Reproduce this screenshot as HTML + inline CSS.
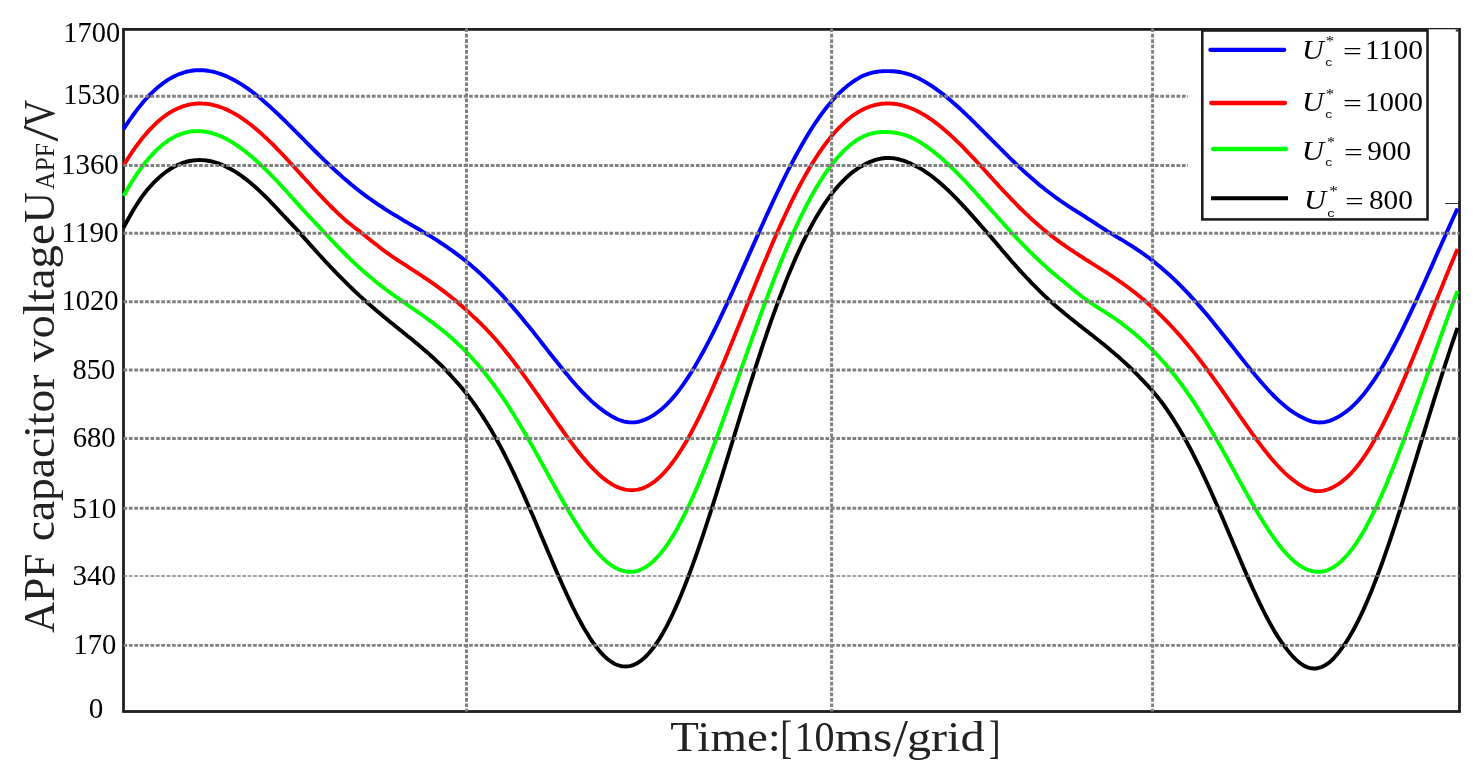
<!DOCTYPE html>
<html lang="en"><head><meta charset="utf-8"><title>APF capacitor voltage</title>
<style>html,body{margin:0;padding:0;background:#fff;}svg{display:block;}text{font-family:"Liberation Serif","DejaVu Serif",serif;}</style></head><body>
<svg width="1484" height="775" viewBox="0 0 1484 775">
<rect width="1484" height="775" fill="#fff"/>
<rect x="123.5" y="29.4" width="1336.0" height="682.1" fill="none" stroke="#1e1e1e" stroke-width="2.8"/>
<g fill="none" stroke-width="3.9" stroke-linejoin="round">
<path d="M123.5,227.7 L125.5,224.0 L127.5,220.3 L129.5,216.7 L131.5,213.2 L133.5,209.8 L135.5,206.5 L137.5,203.4 L139.5,200.4 L141.5,197.4 L143.5,194.7 L145.5,192.0 L147.5,189.6 L149.5,187.3 L151.5,185.1 L153.5,182.9 L155.5,180.9 L157.5,179.0 L159.5,177.2 L161.5,175.4 L163.5,173.8 L165.5,172.3 L167.5,170.8 L169.5,169.5 L171.5,168.2 L173.5,167.1 L175.5,166.0 L177.5,165.0 L179.5,164.2 L181.5,163.4 L183.5,162.7 L185.5,162.0 L187.5,161.5 L189.5,161.0 L191.5,160.7 L193.5,160.4 L195.5,160.2 L197.5,160.1 L199.5,160.0 L201.5,160.1 L203.5,160.2 L205.5,160.4 L207.5,160.7 L209.5,161.0 L211.5,161.4 L213.5,161.9 L215.5,162.5 L217.5,163.1 L219.5,163.9 L221.5,164.6 L223.5,165.5 L225.5,166.4 L227.5,167.4 L229.5,168.4 L231.5,169.5 L233.5,170.7 L235.5,171.9 L237.5,173.2 L239.5,174.5 L241.5,175.9 L243.5,177.4 L245.5,178.9 L247.5,180.4 L249.5,182.0 L251.5,183.7 L253.5,185.4 L255.5,187.2 L257.5,189.0 L259.5,190.9 L261.5,192.8 L263.5,194.7 L265.5,196.7 L267.5,198.7 L269.5,200.7 L271.5,202.8 L273.5,204.9 L275.5,207.0 L277.5,209.1 L279.5,211.3 L281.5,213.4 L283.5,215.5 L285.5,217.6 L287.5,219.7 L289.5,221.8 L291.5,223.9 L293.5,226.1 L295.5,228.2 L297.5,230.4 L299.5,232.6 L301.5,234.9 L303.5,237.1 L305.5,239.4 L307.5,241.6 L309.5,243.9 L311.5,246.1 L313.5,248.3 L315.5,250.6 L317.5,252.8 L319.5,255.0 L321.5,257.1 L323.5,259.3 L325.5,261.5 L327.5,263.6 L329.5,265.7 L331.5,267.9 L333.5,270.0 L335.5,272.0 L337.5,274.1 L339.5,276.2 L341.5,278.2 L343.5,280.2 L345.5,282.2 L347.5,284.2 L349.5,286.1 L351.5,288.0 L353.5,290.0 L355.5,291.9 L357.5,293.7 L359.5,295.6 L361.5,297.4 L363.5,299.2 L365.5,301.0 L367.5,302.8 L369.5,304.6 L371.5,306.3 L373.5,308.0 L375.5,309.7 L377.5,311.4 L379.5,313.1 L381.5,314.8 L383.5,316.5 L385.5,318.1 L387.5,319.7 L389.5,321.4 L391.5,323.0 L393.5,324.6 L395.5,326.2 L397.5,327.8 L399.5,329.5 L401.5,331.1 L403.5,332.7 L405.5,334.3 L407.5,335.9 L409.5,337.5 L411.5,339.1 L413.5,340.8 L415.5,342.4 L417.5,344.1 L419.5,345.8 L421.5,347.4 L423.5,349.2 L425.5,350.9 L427.5,352.6 L429.5,354.4 L431.5,356.2 L433.5,358.0 L435.5,359.9 L437.5,361.8 L439.5,363.7 L441.5,365.7 L443.5,367.7 L445.5,369.8 L447.5,371.9 L449.5,374.1 L451.5,376.3 L453.5,378.5 L455.5,380.7 L457.5,382.9 L459.5,385.2 L461.5,387.6 L463.5,390.0 L465.5,392.4 L467.5,395.0 L469.5,397.5 L471.5,400.2 L473.5,402.9 L475.5,405.7 L477.5,408.6 L479.5,411.5 L481.5,414.5 L483.5,417.6 L485.5,420.7 L487.5,423.9 L489.5,427.2 L491.5,430.6 L493.5,434.1 L495.5,437.6 L497.5,441.2 L499.5,444.9 L501.5,448.6 L503.5,452.5 L505.5,456.4 L507.5,460.3 L509.5,464.4 L511.5,468.5 L513.5,472.7 L515.5,476.9 L517.5,481.2 L519.5,485.5 L521.5,490.0 L523.5,494.4 L525.5,498.9 L527.5,503.5 L529.5,508.1 L531.5,512.7 L533.5,517.3 L535.5,522.0 L537.5,526.7 L539.5,531.4 L541.5,536.2 L543.5,540.9 L545.5,545.6 L547.5,550.4 L549.5,555.1 L551.5,559.8 L553.5,564.5 L555.5,569.1 L557.5,573.7 L559.5,578.3 L561.5,582.8 L563.5,587.2 L565.5,591.6 L567.5,596.0 L569.5,600.2 L571.5,604.4 L573.5,608.5 L575.5,612.5 L577.5,616.3 L579.5,620.1 L581.5,623.8 L583.5,627.4 L585.5,630.8 L587.5,634.1 L589.5,637.3 L591.5,640.3 L593.5,643.2 L595.5,645.9 L597.5,648.5 L599.5,650.9 L601.5,653.2 L603.5,655.3 L605.5,657.2 L607.5,659.0 L609.5,660.5 L611.5,661.9 L613.5,663.2 L615.5,664.2 L617.5,665.0 L619.5,665.7 L621.5,666.2 L623.5,666.4 L625.5,666.5 L627.5,666.4 L629.5,666.1 L631.5,665.6 L633.5,664.9 L635.5,664.1 L637.5,663.0 L639.5,661.7 L641.5,660.3 L643.5,658.6 L645.5,656.8 L647.5,654.7 L649.5,652.5 L651.5,650.1 L653.5,647.5 L655.5,644.8 L657.5,641.8 L659.5,638.7 L661.5,635.4 L663.5,632.0 L665.5,628.4 L667.5,624.6 L669.5,620.7 L671.5,616.6 L673.5,612.3 L675.5,607.9 L677.5,603.4 L679.5,598.7 L681.5,593.9 L683.5,589.0 L685.5,584.0 L687.5,578.8 L689.5,573.5 L691.5,568.1 L693.5,562.6 L695.5,557.0 L697.5,551.3 L699.5,545.5 L701.5,539.6 L703.5,533.6 L705.5,527.6 L707.5,521.5 L709.5,515.3 L711.5,509.1 L713.5,502.8 L715.5,496.5 L717.5,490.1 L719.5,483.7 L721.5,477.2 L723.5,470.8 L725.5,464.3 L727.5,457.8 L729.5,451.2 L731.5,444.7 L733.5,438.2 L735.5,431.6 L737.5,425.1 L739.5,418.6 L741.5,412.1 L743.5,405.6 L745.5,399.2 L747.5,392.8 L749.5,386.4 L751.5,380.1 L753.5,373.8 L755.5,367.6 L757.5,361.4 L759.5,355.3 L761.5,349.2 L763.5,343.2 L765.5,337.3 L767.5,331.4 L769.5,325.6 L771.5,319.9 L773.5,314.3 L775.5,308.8 L777.5,303.3 L779.5,297.9 L781.5,292.7 L783.5,287.5 L785.5,282.4 L787.5,277.4 L789.5,272.5 L791.5,267.7 L793.5,263.0 L795.5,258.4 L797.5,254.0 L799.5,249.6 L801.5,245.3 L803.5,241.1 L805.5,237.1 L807.5,233.1 L809.5,229.3 L811.5,225.6 L813.5,221.9 L815.5,218.4 L817.5,215.0 L819.5,211.7 L821.5,208.5 L823.5,205.4 L825.5,202.4 L827.5,199.6 L829.5,196.8 L831.5,194.1 L833.5,191.6 L835.5,189.1 L837.5,186.8 L839.5,184.5 L841.5,182.4 L843.5,180.3 L845.5,178.4 L847.5,176.5 L849.5,174.8 L851.5,173.1 L853.5,171.5 L855.5,170.1 L857.5,168.7 L859.5,167.4 L861.5,166.2 L863.5,165.1 L865.5,164.0 L867.5,163.0 L869.5,162.1 L871.5,161.3 L873.5,160.6 L875.5,159.9 L877.5,159.4 L879.5,158.9 L881.5,158.5 L883.5,158.2 L885.5,158.0 L887.5,157.9 L889.5,158.0 L891.5,158.1 L893.5,158.3 L895.5,158.6 L897.5,159.0 L899.5,159.5 L901.5,160.1 L903.5,160.7 L905.5,161.4 L907.5,162.2 L909.5,163.0 L911.5,163.9 L913.5,164.9 L915.5,165.9 L917.5,166.9 L919.5,168.0 L921.5,169.2 L923.5,170.4 L925.5,171.8 L927.5,173.1 L929.5,174.5 L931.5,176.0 L933.5,177.6 L935.5,179.2 L937.5,180.8 L939.5,182.5 L941.5,184.2 L943.5,186.0 L945.5,187.9 L947.5,189.7 L949.5,191.7 L951.5,193.6 L953.5,195.6 L955.5,197.6 L957.5,199.7 L959.5,201.8 L961.5,203.9 L963.5,206.1 L965.5,208.2 L967.5,210.4 L969.5,212.6 L971.5,214.9 L973.5,217.1 L975.5,219.4 L977.5,221.6 L979.5,223.9 L981.5,226.2 L983.5,228.5 L985.5,230.8 L987.5,233.0 L989.5,235.3 L991.5,237.6 L993.5,240.0 L995.5,242.3 L997.5,244.6 L999.5,247.0 L1001.5,249.4 L1003.5,251.7 L1005.5,254.1 L1007.5,256.4 L1009.5,258.7 L1011.5,261.1 L1013.5,263.3 L1015.5,265.6 L1017.5,267.8 L1019.5,270.1 L1021.5,272.2 L1023.5,274.4 L1025.5,276.5 L1027.5,278.6 L1029.5,280.7 L1031.5,282.8 L1033.5,284.9 L1035.5,286.9 L1037.5,288.9 L1039.5,290.9 L1041.5,292.8 L1043.5,294.8 L1045.5,296.7 L1047.5,298.5 L1049.5,300.4 L1051.5,302.2 L1053.5,303.9 L1055.5,305.7 L1057.5,307.4 L1059.5,309.2 L1061.5,310.8 L1063.5,312.5 L1065.5,314.2 L1067.5,315.8 L1069.5,317.4 L1071.5,319.0 L1073.5,320.6 L1075.5,322.2 L1077.5,323.8 L1079.5,325.4 L1081.5,326.9 L1083.5,328.5 L1085.5,330.1 L1087.5,331.6 L1089.5,333.2 L1091.5,334.8 L1093.5,336.3 L1095.5,337.9 L1097.5,339.5 L1099.5,341.1 L1101.5,342.7 L1103.5,344.3 L1105.5,346.0 L1107.5,347.6 L1109.5,349.3 L1111.5,351.0 L1113.5,352.6 L1115.5,354.4 L1117.5,356.1 L1119.5,357.8 L1121.5,359.6 L1123.5,361.4 L1125.5,363.2 L1127.5,365.1 L1129.5,367.0 L1131.5,368.9 L1133.5,370.9 L1135.5,372.9 L1137.5,374.9 L1139.5,377.0 L1141.5,379.1 L1143.5,381.2 L1145.5,383.3 L1147.5,385.4 L1149.5,387.6 L1151.5,389.8 L1153.5,392.1 L1155.5,394.5 L1157.5,396.9 L1159.5,399.4 L1161.5,402.0 L1163.5,404.7 L1165.5,407.5 L1167.5,410.4 L1169.5,413.4 L1171.5,416.4 L1173.5,419.5 L1175.5,422.7 L1177.5,426.0 L1179.5,429.3 L1181.5,432.8 L1183.5,436.3 L1185.5,439.8 L1187.5,443.5 L1189.5,447.2 L1191.5,451.0 L1193.5,454.9 L1195.5,458.8 L1197.5,462.9 L1199.5,466.9 L1201.5,471.1 L1203.5,475.3 L1205.5,479.6 L1207.5,483.9 L1209.5,488.3 L1211.5,492.7 L1213.5,497.2 L1215.5,501.8 L1217.5,506.3 L1219.5,511.0 L1221.5,515.6 L1223.5,520.3 L1225.5,525.0 L1227.5,529.7 L1229.5,534.4 L1231.5,539.1 L1233.5,543.9 L1235.5,548.6 L1237.5,553.3 L1239.5,558.0 L1241.5,562.7 L1243.5,567.4 L1245.5,572.0 L1247.5,576.6 L1249.5,581.1 L1251.5,585.6 L1253.5,590.0 L1255.5,594.3 L1257.5,598.6 L1259.5,602.8 L1261.5,606.9 L1263.5,611.0 L1265.5,614.9 L1267.5,618.7 L1269.5,622.4 L1271.5,626.0 L1273.5,629.5 L1275.5,632.9 L1277.5,636.1 L1279.5,639.2 L1281.5,642.1 L1283.5,644.9 L1285.5,647.6 L1287.5,650.1 L1289.5,652.6 L1291.5,655.0 L1293.5,657.2 L1295.5,659.2 L1297.5,661.1 L1299.5,662.7 L1301.5,664.1 L1303.5,665.4 L1305.5,666.4 L1307.5,667.3 L1309.5,667.9 L1311.5,668.3 L1313.5,668.5 L1315.5,668.5 L1317.5,668.2 L1319.5,667.7 L1321.5,667.0 L1323.5,666.1 L1325.5,665.0 L1327.5,663.7 L1329.5,662.2 L1331.5,660.4 L1333.5,658.5 L1335.5,656.3 L1337.5,653.9 L1339.5,651.4 L1341.5,648.7 L1343.5,645.9 L1345.5,643.0 L1347.5,639.9 L1349.5,636.7 L1351.5,633.3 L1353.5,629.8 L1355.5,626.0 L1357.5,622.2 L1359.5,618.1 L1361.5,613.9 L1363.5,609.6 L1365.5,605.1 L1367.5,600.5 L1369.5,595.8 L1371.5,590.9 L1373.5,585.9 L1375.5,580.7 L1377.5,575.5 L1379.5,570.1 L1381.5,564.7 L1383.5,559.1 L1385.5,553.4 L1387.5,547.6 L1389.5,541.8 L1391.5,535.9 L1393.5,529.9 L1395.5,523.8 L1397.5,517.6 L1399.5,511.4 L1401.5,505.2 L1403.5,498.9 L1405.5,492.5 L1407.5,486.1 L1409.5,479.7 L1411.5,473.2 L1413.5,466.7 L1415.5,460.2 L1417.5,453.7 L1419.5,447.1 L1421.5,440.6 L1423.5,434.1 L1425.5,427.6 L1427.5,421.0 L1429.5,414.5 L1431.5,408.1 L1433.5,401.6 L1435.5,395.2 L1437.5,388.8 L1439.5,382.5 L1441.5,376.2 L1443.5,369.9 L1445.5,363.7 L1447.5,357.6 L1449.5,351.5 L1451.5,345.4 L1453.5,339.5 L1455.5,333.6 L1457.5,327.8" stroke="#000"/>
<path d="M123.5,196.0 L125.5,192.5 L127.5,189.0 L129.5,185.6 L131.5,182.4 L133.5,179.2 L135.5,176.1 L137.5,173.2 L139.5,170.3 L141.5,167.5 L143.5,164.9 L145.5,162.3 L147.5,159.9 L149.5,157.5 L151.5,155.3 L153.5,153.1 L155.5,151.1 L157.5,149.2 L159.5,147.4 L161.5,145.6 L163.5,144.0 L165.5,142.5 L167.5,141.0 L169.5,139.7 L171.5,138.5 L173.5,137.4 L175.5,136.3 L177.5,135.4 L179.5,134.6 L181.5,133.8 L183.5,133.2 L185.5,132.6 L187.5,132.1 L189.5,131.7 L191.5,131.4 L193.5,131.2 L195.5,131.1 L197.5,131.1 L199.5,131.1 L201.5,131.2 L203.5,131.4 L205.5,131.7 L207.5,132.1 L209.5,132.5 L211.5,133.0 L213.5,133.6 L215.5,134.3 L217.5,135.0 L219.5,135.8 L221.5,136.6 L223.5,137.6 L225.5,138.6 L227.5,139.6 L229.5,140.7 L231.5,141.9 L233.5,143.1 L235.5,144.4 L237.5,145.8 L239.5,147.2 L241.5,148.6 L243.5,150.1 L245.5,151.6 L247.5,153.2 L249.5,154.9 L251.5,156.6 L253.5,158.3 L255.5,160.0 L257.5,161.9 L259.5,163.7 L261.5,165.6 L263.5,167.5 L265.5,169.4 L267.5,171.4 L269.5,173.4 L271.5,175.4 L273.5,177.5 L275.5,179.6 L277.5,181.7 L279.5,183.8 L281.5,186.0 L283.5,188.1 L285.5,190.3 L287.5,192.5 L289.5,194.7 L291.5,196.9 L293.5,199.2 L295.5,201.4 L297.5,203.6 L299.5,205.9 L301.5,208.1 L303.5,210.3 L305.5,212.5 L307.5,214.6 L309.5,216.8 L311.5,218.9 L313.5,221.0 L315.5,223.1 L317.5,225.2 L319.5,227.3 L321.5,229.4 L323.5,231.5 L325.5,233.7 L327.5,235.8 L329.5,238.0 L331.5,240.1 L333.5,242.2 L335.5,244.3 L337.5,246.4 L339.5,248.4 L341.5,250.5 L343.5,252.5 L345.5,254.5 L347.5,256.5 L349.5,258.4 L351.5,260.3 L353.5,262.2 L355.5,264.1 L357.5,265.9 L359.5,267.7 L361.5,269.5 L363.5,271.3 L365.5,273.0 L367.5,274.7 L369.5,276.4 L371.5,278.1 L373.5,279.7 L375.5,281.4 L377.5,283.0 L379.5,284.5 L381.5,286.1 L383.5,287.6 L385.5,289.2 L387.5,290.7 L389.5,292.1 L391.5,293.6 L393.5,295.0 L395.5,296.5 L397.5,297.9 L399.5,299.3 L401.5,300.7 L403.5,302.1 L405.5,303.5 L407.5,304.9 L409.5,306.3 L411.5,307.6 L413.5,309.0 L415.5,310.4 L417.5,311.8 L419.5,313.2 L421.5,314.6 L423.5,316.0 L425.5,317.5 L427.5,318.9 L429.5,320.4 L431.5,321.8 L433.5,323.3 L435.5,324.9 L437.5,326.4 L439.5,328.0 L441.5,329.6 L443.5,331.2 L445.5,332.8 L447.5,334.5 L449.5,336.2 L451.5,337.9 L453.5,339.7 L455.5,341.5 L457.5,343.4 L459.5,345.3 L461.5,347.2 L463.5,349.2 L465.5,351.2 L467.5,353.3 L469.5,355.4 L471.5,357.5 L473.5,359.7 L475.5,362.0 L477.5,364.3 L479.5,366.6 L481.5,369.0 L483.5,371.5 L485.5,374.0 L487.5,376.5 L489.5,379.1 L491.5,381.8 L493.5,384.5 L495.5,387.2 L497.5,390.0 L499.5,392.9 L501.5,395.8 L503.5,398.7 L505.5,401.7 L507.5,404.8 L509.5,407.9 L511.5,411.1 L513.5,414.2 L515.5,417.5 L517.5,420.8 L519.5,424.1 L521.5,427.4 L523.5,430.8 L525.5,434.3 L527.5,437.7 L529.5,441.2 L531.5,444.7 L533.5,448.3 L535.5,451.8 L537.5,455.4 L539.5,459.0 L541.5,462.6 L543.5,466.3 L545.5,469.9 L547.5,473.5 L549.5,477.1 L551.5,480.8 L553.5,484.4 L555.5,488.0 L557.5,491.6 L559.5,495.1 L561.5,498.7 L563.5,502.2 L565.5,505.6 L567.5,509.1 L569.5,512.4 L571.5,515.8 L573.5,519.1 L575.5,522.3 L577.5,525.5 L579.5,528.5 L581.5,531.6 L583.5,534.5 L585.5,537.4 L587.5,540.2 L589.5,542.9 L591.5,545.5 L593.5,548.0 L595.5,550.4 L597.5,552.6 L599.5,554.8 L601.5,556.9 L603.5,558.8 L605.5,560.7 L607.5,562.4 L609.5,563.9 L611.5,565.4 L613.5,566.7 L615.5,567.8 L617.5,568.8 L619.5,569.7 L621.5,570.4 L623.5,571.0 L625.5,571.4 L627.5,571.7 L629.5,571.8 L631.5,571.8 L633.5,571.6 L635.5,571.3 L637.5,570.8 L639.5,570.1 L641.5,569.3 L643.5,568.3 L645.5,567.1 L647.5,565.8 L649.5,564.4 L651.5,562.7 L653.5,561.0 L655.5,559.0 L657.5,556.9 L659.5,554.7 L661.5,552.3 L663.5,549.8 L665.5,547.1 L667.5,544.2 L669.5,541.3 L671.5,538.1 L673.5,534.9 L675.5,531.5 L677.5,528.0 L679.5,524.3 L681.5,520.5 L683.5,516.6 L685.5,512.6 L687.5,508.5 L689.5,504.2 L691.5,499.9 L693.5,495.4 L695.5,490.9 L697.5,486.2 L699.5,481.5 L701.5,476.6 L703.5,471.7 L705.5,466.7 L707.5,461.7 L709.5,456.5 L711.5,451.3 L713.5,446.1 L715.5,440.7 L717.5,435.4 L719.5,430.0 L721.5,424.5 L723.5,419.0 L725.5,413.4 L727.5,407.9 L729.5,402.3 L731.5,396.6 L733.5,391.0 L735.5,385.3 L737.5,379.7 L739.5,374.0 L741.5,368.3 L743.5,362.7 L745.5,357.0 L747.5,351.4 L749.5,345.7 L751.5,340.1 L753.5,334.5 L755.5,328.9 L757.5,323.4 L759.5,317.9 L761.5,312.4 L763.5,307.0 L765.5,301.6 L767.5,296.3 L769.5,291.0 L771.5,285.7 L773.5,280.5 L775.5,275.4 L777.5,270.3 L779.5,265.3 L781.5,260.4 L783.5,255.5 L785.5,250.8 L787.5,246.0 L789.5,241.4 L791.5,236.8 L793.5,232.4 L795.5,228.0 L797.5,223.7 L799.5,219.4 L801.5,215.3 L803.5,211.3 L805.5,207.3 L807.5,203.5 L809.5,199.7 L811.5,196.0 L813.5,192.5 L815.5,189.0 L817.5,185.6 L819.5,182.4 L821.5,179.2 L823.5,176.1 L825.5,173.2 L827.5,170.3 L829.5,167.5 L831.5,164.9 L833.5,162.3 L835.5,159.9 L837.5,157.5 L839.5,155.3 L841.5,153.1 L843.5,151.1 L845.5,149.2 L847.5,147.4 L849.5,145.6 L851.5,144.0 L853.5,142.5 L855.5,141.0 L857.5,139.7 L859.5,138.5 L861.5,137.4 L863.5,136.4 L865.5,135.5 L867.5,134.7 L869.5,134.1 L871.5,133.5 L873.5,133.0 L875.5,132.7 L877.5,132.4 L879.5,132.2 L881.5,132.0 L883.5,132.0 L885.5,132.0 L887.5,132.0 L889.5,132.1 L891.5,132.3 L893.5,132.5 L895.5,132.8 L897.5,133.1 L899.5,133.6 L901.5,134.0 L903.5,134.6 L905.5,135.2 L907.5,135.9 L909.5,136.7 L911.5,137.6 L913.5,138.6 L915.5,139.6 L917.5,140.7 L919.5,141.9 L921.5,143.1 L923.5,144.4 L925.5,145.8 L927.5,147.2 L929.5,148.6 L931.5,150.1 L933.5,151.6 L935.5,153.2 L937.5,154.9 L939.5,156.6 L941.5,158.3 L943.5,160.0 L945.5,161.9 L947.5,163.7 L949.5,165.6 L951.5,167.5 L953.5,169.4 L955.5,171.4 L957.5,173.4 L959.5,175.4 L961.5,177.5 L963.5,179.6 L965.5,181.7 L967.5,183.8 L969.5,186.0 L971.5,188.1 L973.5,190.3 L975.5,192.5 L977.5,194.7 L979.5,196.9 L981.5,199.2 L983.5,201.4 L985.5,203.6 L987.5,205.9 L989.5,208.1 L991.5,210.4 L993.5,212.6 L995.5,214.8 L997.5,217.1 L999.5,219.3 L1001.5,221.5 L1003.5,223.8 L1005.5,226.0 L1007.5,228.2 L1009.5,230.4 L1011.5,232.5 L1013.5,234.7 L1015.5,236.8 L1017.5,238.9 L1019.5,241.0 L1021.5,243.1 L1023.5,245.2 L1025.5,247.2 L1027.5,249.3 L1029.5,251.3 L1031.5,253.2 L1033.5,255.2 L1035.5,257.1 L1037.5,259.0 L1039.5,260.9 L1041.5,262.8 L1043.5,264.6 L1045.5,266.4 L1047.5,268.2 L1049.5,270.0 L1051.5,271.7 L1053.5,273.4 L1055.5,275.1 L1057.5,276.7 L1059.5,278.4 L1061.5,280.0 L1063.5,281.6 L1065.5,283.3 L1067.5,284.9 L1069.5,286.6 L1071.5,288.2 L1073.5,289.8 L1075.5,291.4 L1077.5,293.0 L1079.5,294.6 L1081.5,296.2 L1083.5,297.7 L1085.5,299.2 L1087.5,300.6 L1089.5,302.0 L1091.5,303.4 L1093.5,304.7 L1095.5,306.0 L1097.5,307.3 L1099.5,308.6 L1101.5,309.9 L1103.5,311.1 L1105.5,312.4 L1107.5,313.7 L1109.5,315.0 L1111.5,316.3 L1113.5,317.6 L1115.5,319.0 L1117.5,320.4 L1119.5,321.8 L1121.5,323.3 L1123.5,324.9 L1125.5,326.4 L1127.5,328.0 L1129.5,329.6 L1131.5,331.2 L1133.5,332.8 L1135.5,334.5 L1137.5,336.2 L1139.5,337.9 L1141.5,339.7 L1143.5,341.5 L1145.5,343.4 L1147.5,345.3 L1149.5,347.2 L1151.5,349.2 L1153.5,351.2 L1155.5,353.3 L1157.5,355.4 L1159.5,357.5 L1161.5,359.7 L1163.5,362.0 L1165.5,364.3 L1167.5,366.6 L1169.5,369.0 L1171.5,371.5 L1173.5,374.0 L1175.5,376.5 L1177.5,379.1 L1179.5,381.8 L1181.5,384.5 L1183.5,387.2 L1185.5,390.0 L1187.5,392.9 L1189.5,395.8 L1191.5,398.7 L1193.5,401.7 L1195.5,404.8 L1197.5,407.9 L1199.5,411.1 L1201.5,414.2 L1203.5,417.5 L1205.5,420.8 L1207.5,424.1 L1209.5,427.4 L1211.5,430.8 L1213.5,434.3 L1215.5,437.7 L1217.5,441.2 L1219.5,444.7 L1221.5,448.3 L1223.5,451.8 L1225.5,455.4 L1227.5,459.0 L1229.5,462.6 L1231.5,466.3 L1233.5,469.9 L1235.5,473.5 L1237.5,477.1 L1239.5,480.8 L1241.5,484.4 L1243.5,488.0 L1245.5,491.6 L1247.5,495.1 L1249.5,498.7 L1251.5,502.2 L1253.5,505.6 L1255.5,509.1 L1257.5,512.4 L1259.5,515.8 L1261.5,519.1 L1263.5,522.3 L1265.5,525.5 L1267.5,528.5 L1269.5,531.6 L1271.5,534.5 L1273.5,537.4 L1275.5,540.2 L1277.5,542.9 L1279.5,545.5 L1281.5,548.0 L1283.5,550.4 L1285.5,552.6 L1287.5,554.8 L1289.5,556.9 L1291.5,558.8 L1293.5,560.7 L1295.5,562.4 L1297.5,563.9 L1299.5,565.4 L1301.5,566.7 L1303.5,567.8 L1305.5,568.8 L1307.5,569.7 L1309.5,570.4 L1311.5,571.0 L1313.5,571.4 L1315.5,571.7 L1317.5,571.8 L1319.5,571.8 L1321.5,571.6 L1323.5,571.3 L1325.5,570.8 L1327.5,570.1 L1329.5,569.3 L1331.5,568.3 L1333.5,567.1 L1335.5,565.8 L1337.5,564.4 L1339.5,562.7 L1341.5,561.0 L1343.5,559.0 L1345.5,556.9 L1347.5,554.7 L1349.5,552.3 L1351.5,549.8 L1353.5,547.1 L1355.5,544.2 L1357.5,541.3 L1359.5,538.1 L1361.5,534.9 L1363.5,531.5 L1365.5,528.0 L1367.5,524.3 L1369.5,520.5 L1371.5,516.6 L1373.5,512.6 L1375.5,508.5 L1377.5,504.2 L1379.5,499.9 L1381.5,495.4 L1383.5,490.9 L1385.5,486.2 L1387.5,481.5 L1389.5,476.6 L1391.5,471.7 L1393.5,466.7 L1395.5,461.7 L1397.5,456.5 L1399.5,451.3 L1401.5,446.1 L1403.5,440.7 L1405.5,435.4 L1407.5,430.0 L1409.5,424.5 L1411.5,419.0 L1413.5,413.4 L1415.5,407.9 L1417.5,402.3 L1419.5,396.6 L1421.5,391.0 L1423.5,385.3 L1425.5,379.7 L1427.5,374.0 L1429.5,368.3 L1431.5,362.7 L1433.5,357.0 L1435.5,351.4 L1437.5,345.7 L1439.5,340.1 L1441.5,334.5 L1443.5,328.9 L1445.5,323.4 L1447.5,317.9 L1449.5,312.4 L1451.5,307.0 L1453.5,301.6 L1455.5,296.3 L1457.5,291.0" stroke="#0f0"/>
<path d="M123.5,165.5 L125.5,162.3 L127.5,159.1 L129.5,156.0 L131.5,153.0 L133.5,150.0 L135.5,147.2 L137.5,144.5 L139.5,141.8 L141.5,139.2 L143.5,136.8 L145.5,134.4 L147.5,132.1 L149.5,129.9 L151.5,127.8 L153.5,125.8 L155.5,123.8 L157.5,122.0 L159.5,120.3 L161.5,118.6 L163.5,117.0 L165.5,115.5 L167.5,114.2 L169.5,112.9 L171.5,111.6 L173.5,110.5 L175.5,109.5 L177.5,108.5 L179.5,107.7 L181.5,106.9 L183.5,106.2 L185.5,105.6 L187.5,105.0 L189.5,104.6 L191.5,104.2 L193.5,103.9 L195.5,103.7 L197.5,103.5 L199.5,103.5 L201.5,103.5 L203.5,103.6 L205.5,103.7 L207.5,103.9 L209.5,104.2 L211.5,104.6 L213.5,105.1 L215.5,105.6 L217.5,106.1 L219.5,106.8 L221.5,107.5 L223.5,108.3 L225.5,109.1 L227.5,110.0 L229.5,111.0 L231.5,112.0 L233.5,113.1 L235.5,114.2 L237.5,115.4 L239.5,116.7 L241.5,118.0 L243.5,119.4 L245.5,120.8 L247.5,122.2 L249.5,123.7 L251.5,125.3 L253.5,126.9 L255.5,128.6 L257.5,130.3 L259.5,132.0 L261.5,133.8 L263.5,135.6 L265.5,137.5 L267.5,139.4 L269.5,141.3 L271.5,143.2 L273.5,145.2 L275.5,147.2 L277.5,149.3 L279.5,151.3 L281.5,153.4 L283.5,155.5 L285.5,157.7 L287.5,159.8 L289.5,162.0 L291.5,164.1 L293.5,166.3 L295.5,168.5 L297.5,170.7 L299.5,172.9 L301.5,175.1 L303.5,177.3 L305.5,179.5 L307.5,181.6 L309.5,183.8 L311.5,186.0 L313.5,188.2 L315.5,190.3 L317.5,192.5 L319.5,194.6 L321.5,196.7 L323.5,198.8 L325.5,200.9 L327.5,202.9 L329.5,205.0 L331.5,207.0 L333.5,209.0 L335.5,210.9 L337.5,212.9 L339.5,214.8 L341.5,216.6 L343.5,218.4 L345.5,220.2 L347.5,221.9 L349.5,223.5 L351.5,225.1 L353.5,226.7 L355.5,228.2 L357.5,229.8 L359.5,231.3 L361.5,232.9 L363.5,234.5 L365.5,236.1 L367.5,237.7 L369.5,239.3 L371.5,240.9 L373.5,242.5 L375.5,244.0 L377.5,245.6 L379.5,247.2 L381.5,248.7 L383.5,250.2 L385.5,251.7 L387.5,253.2 L389.5,254.6 L391.5,256.0 L393.5,257.4 L395.5,258.7 L397.5,260.0 L399.5,261.3 L401.5,262.6 L403.5,263.9 L405.5,265.2 L407.5,266.5 L409.5,267.8 L411.5,269.1 L413.5,270.4 L415.5,271.7 L417.5,273.0 L419.5,274.3 L421.5,275.6 L423.5,277.0 L425.5,278.3 L427.5,279.7 L429.5,281.0 L431.5,282.4 L433.5,283.8 L435.5,285.2 L437.5,286.7 L439.5,288.1 L441.5,289.6 L443.5,291.1 L445.5,292.6 L447.5,294.2 L449.5,295.7 L451.5,297.3 L453.5,299.0 L455.5,300.6 L457.5,302.3 L459.5,304.0 L461.5,305.7 L463.5,307.5 L465.5,309.3 L467.5,311.1 L469.5,312.9 L471.5,314.8 L473.5,316.7 L475.5,318.5 L477.5,320.5 L479.5,322.4 L481.5,324.4 L483.5,326.4 L485.5,328.4 L487.5,330.5 L489.5,332.6 L491.5,334.8 L493.5,337.0 L495.5,339.2 L497.5,341.5 L499.5,343.9 L501.5,346.3 L503.5,348.8 L505.5,351.2 L507.5,353.7 L509.5,356.3 L511.5,358.8 L513.5,361.4 L515.5,364.1 L517.5,366.7 L519.5,369.4 L521.5,372.1 L523.5,374.8 L525.5,377.6 L527.5,380.4 L529.5,383.2 L531.5,386.0 L533.5,388.8 L535.5,391.7 L537.5,394.5 L539.5,397.4 L541.5,400.3 L543.5,403.2 L545.5,406.1 L547.5,408.9 L549.5,411.8 L551.5,414.7 L553.5,417.6 L555.5,420.5 L557.5,423.4 L559.5,426.2 L561.5,429.0 L563.5,431.9 L565.5,434.6 L567.5,437.4 L569.5,440.1 L571.5,442.8 L573.5,445.5 L575.5,448.1 L577.5,450.7 L579.5,453.2 L581.5,455.7 L583.5,458.1 L585.5,460.4 L587.5,462.7 L589.5,465.0 L591.5,467.1 L593.5,469.2 L595.5,471.2 L597.5,473.1 L599.5,475.0 L601.5,476.7 L603.5,478.4 L605.5,479.9 L607.5,481.4 L609.5,482.7 L611.5,484.0 L613.5,485.1 L615.5,486.2 L617.5,487.1 L619.5,487.9 L621.5,488.6 L623.5,489.2 L625.5,489.6 L627.5,489.9 L629.5,490.1 L631.5,490.2 L633.5,490.1 L635.5,489.9 L637.5,489.6 L639.5,489.2 L641.5,488.6 L643.5,487.9 L645.5,487.0 L647.5,486.0 L649.5,484.9 L651.5,483.6 L653.5,482.2 L655.5,480.7 L657.5,479.0 L659.5,477.3 L661.5,475.3 L663.5,473.3 L665.5,471.1 L667.5,468.8 L669.5,466.4 L671.5,463.8 L673.5,461.1 L675.5,458.3 L677.5,455.4 L679.5,452.4 L681.5,449.3 L683.5,446.0 L685.5,442.7 L687.5,439.2 L689.5,435.6 L691.5,432.0 L693.5,428.2 L695.5,424.4 L697.5,420.5 L699.5,416.4 L701.5,412.3 L703.5,408.2 L705.5,403.9 L707.5,399.6 L709.5,395.2 L711.5,390.7 L713.5,386.2 L715.5,381.6 L717.5,377.0 L719.5,372.3 L721.5,367.6 L723.5,362.8 L725.5,358.0 L727.5,353.2 L729.5,348.3 L731.5,343.4 L733.5,338.5 L735.5,333.6 L737.5,328.6 L739.5,323.7 L741.5,318.7 L743.5,313.7 L745.5,308.7 L747.5,303.8 L749.5,298.8 L751.5,293.8 L753.5,288.9 L755.5,284.0 L757.5,279.1 L759.5,274.2 L761.5,269.3 L763.5,264.5 L765.5,259.7 L767.5,254.9 L769.5,250.2 L771.5,245.5 L773.5,240.9 L775.5,236.3 L777.5,231.8 L779.5,227.3 L781.5,222.9 L783.5,218.5 L785.5,214.2 L787.5,210.0 L789.5,205.8 L791.5,201.7 L793.5,197.6 L795.5,193.7 L797.5,189.8 L799.5,186.0 L801.5,182.2 L803.5,178.6 L805.5,175.0 L807.5,171.5 L809.5,168.0 L811.5,164.7 L813.5,161.5 L815.5,158.3 L817.5,155.2 L819.5,152.2 L821.5,149.3 L823.5,146.5 L825.5,143.8 L827.5,141.2 L829.5,138.6 L831.5,136.2 L833.5,133.8 L835.5,131.5 L837.5,129.4 L839.5,127.3 L841.5,125.3 L843.5,123.4 L845.5,121.6 L847.5,119.8 L849.5,118.2 L851.5,116.6 L853.5,115.2 L855.5,113.8 L857.5,112.5 L859.5,111.4 L861.5,110.3 L863.5,109.2 L865.5,108.3 L867.5,107.5 L869.5,106.7 L871.5,106.0 L873.5,105.4 L875.5,104.9 L877.5,104.5 L879.5,104.1 L881.5,103.8 L883.5,103.6 L885.5,103.5 L887.5,103.5 L889.5,103.5 L891.5,103.6 L893.5,103.8 L895.5,104.0 L897.5,104.3 L899.5,104.7 L901.5,105.2 L903.5,105.7 L905.5,106.3 L907.5,107.0 L909.5,107.7 L911.5,108.5 L913.5,109.3 L915.5,110.2 L917.5,111.2 L919.5,112.3 L921.5,113.4 L923.5,114.5 L925.5,115.7 L927.5,117.0 L929.5,118.3 L931.5,119.7 L933.5,121.1 L935.5,122.6 L937.5,124.1 L939.5,125.7 L941.5,127.3 L943.5,129.0 L945.5,130.7 L947.5,132.4 L949.5,134.2 L951.5,136.1 L953.5,137.9 L955.5,139.8 L957.5,141.8 L959.5,143.7 L961.5,145.7 L963.5,147.7 L965.5,149.8 L967.5,151.9 L969.5,154.0 L971.5,156.1 L973.5,158.2 L975.5,160.3 L977.5,162.5 L979.5,164.7 L981.5,166.8 L983.5,169.0 L985.5,171.2 L987.5,173.4 L989.5,175.6 L991.5,177.8 L993.5,180.0 L995.5,182.2 L997.5,184.4 L999.5,186.6 L1001.5,188.7 L1003.5,190.9 L1005.5,193.0 L1007.5,195.1 L1009.5,197.2 L1011.5,199.3 L1013.5,201.4 L1015.5,203.4 L1017.5,205.5 L1019.5,207.5 L1021.5,209.5 L1023.5,211.4 L1025.5,213.3 L1027.5,215.2 L1029.5,217.1 L1031.5,219.0 L1033.5,220.8 L1035.5,222.6 L1037.5,224.3 L1039.5,226.1 L1041.5,227.8 L1043.5,229.4 L1045.5,231.1 L1047.5,232.7 L1049.5,234.3 L1051.5,235.9 L1053.5,237.4 L1055.5,238.9 L1057.5,240.4 L1059.5,241.9 L1061.5,243.3 L1063.5,244.7 L1065.5,246.1 L1067.5,247.5 L1069.5,248.9 L1071.5,250.2 L1073.5,251.5 L1075.5,252.9 L1077.5,254.2 L1079.5,255.5 L1081.5,256.7 L1083.5,258.0 L1085.5,259.3 L1087.5,260.5 L1089.5,261.8 L1091.5,263.1 L1093.5,264.3 L1095.5,265.6 L1097.5,266.8 L1099.5,268.1 L1101.5,269.4 L1103.5,270.6 L1105.5,271.9 L1107.5,273.2 L1109.5,274.5 L1111.5,275.8 L1113.5,277.2 L1115.5,278.5 L1117.5,279.9 L1119.5,281.3 L1121.5,282.7 L1123.5,284.1 L1125.5,285.5 L1127.5,287.0 L1129.5,288.5 L1131.5,290.0 L1133.5,291.5 L1135.5,293.1 L1137.5,294.7 L1139.5,296.3 L1141.5,298.0 L1143.5,299.6 L1145.5,301.3 L1147.5,303.1 L1149.5,304.8 L1151.5,306.6 L1153.5,308.4 L1155.5,310.3 L1157.5,312.2 L1159.5,314.1 L1161.5,316.1 L1163.5,318.0 L1165.5,320.1 L1167.5,322.1 L1169.5,324.2 L1171.5,326.3 L1173.5,328.5 L1175.5,330.7 L1177.5,332.9 L1179.5,335.1 L1181.5,337.4 L1183.5,339.8 L1185.5,342.1 L1187.5,344.5 L1189.5,346.9 L1191.5,349.4 L1193.5,351.9 L1195.5,354.4 L1197.5,356.9 L1199.5,359.5 L1201.5,362.1 L1203.5,364.7 L1205.5,367.4 L1207.5,370.1 L1209.5,372.8 L1211.5,375.5 L1213.5,378.3 L1215.5,381.1 L1217.5,383.9 L1219.5,386.7 L1221.5,389.5 L1223.5,392.4 L1225.5,395.2 L1227.5,398.1 L1229.5,401.0 L1231.5,403.9 L1233.5,406.8 L1235.5,409.7 L1237.5,412.6 L1239.5,415.5 L1241.5,418.3 L1243.5,421.2 L1245.5,424.1 L1247.5,426.9 L1249.5,429.7 L1251.5,432.6 L1253.5,435.3 L1255.5,438.1 L1257.5,440.8 L1259.5,443.5 L1261.5,446.1 L1263.5,448.8 L1265.5,451.3 L1267.5,453.8 L1269.5,456.3 L1271.5,458.7 L1273.5,461.0 L1275.5,463.3 L1277.5,465.5 L1279.5,467.6 L1281.5,469.7 L1283.5,471.7 L1285.5,473.6 L1287.5,475.4 L1289.5,477.1 L1291.5,478.8 L1293.5,480.3 L1295.5,481.8 L1297.5,483.3 L1299.5,484.6 L1301.5,485.8 L1303.5,487.0 L1305.5,488.0 L1307.5,488.9 L1309.5,489.6 L1311.5,490.2 L1313.5,490.7 L1315.5,491.0 L1317.5,491.1 L1319.5,491.1 L1321.5,490.9 L1323.5,490.6 L1325.5,490.1 L1327.5,489.5 L1329.5,488.8 L1331.5,487.9 L1333.5,486.9 L1335.5,485.8 L1337.5,484.6 L1339.5,483.3 L1341.5,481.9 L1343.5,480.3 L1345.5,478.6 L1347.5,476.8 L1349.5,474.8 L1351.5,472.8 L1353.5,470.5 L1355.5,468.2 L1357.5,465.7 L1359.5,463.2 L1361.5,460.5 L1363.5,457.6 L1365.5,454.7 L1367.5,451.6 L1369.5,448.5 L1371.5,445.2 L1373.5,441.8 L1375.5,438.3 L1377.5,434.7 L1379.5,431.1 L1381.5,427.3 L1383.5,423.4 L1385.5,419.5 L1387.5,415.4 L1389.5,411.3 L1391.5,407.1 L1393.5,402.8 L1395.5,398.5 L1397.5,394.1 L1399.5,389.6 L1401.5,385.1 L1403.5,380.5 L1405.5,375.8 L1407.5,371.1 L1409.5,366.4 L1411.5,361.6 L1413.5,356.8 L1415.5,352.0 L1417.5,347.1 L1419.5,342.2 L1421.5,337.3 L1423.5,332.3 L1425.5,327.4 L1427.5,322.4 L1429.5,317.5 L1431.5,312.5 L1433.5,307.5 L1435.5,302.5 L1437.5,297.6 L1439.5,292.6 L1441.5,287.7 L1443.5,282.7 L1445.5,277.8 L1447.5,273.0 L1449.5,268.1 L1451.5,263.3 L1453.5,258.5 L1455.5,253.8 L1457.5,249.0" stroke="#f00"/>
<path d="M123.5,129.2 L125.5,126.1 L127.5,123.1 L129.5,120.1 L131.5,117.3 L133.5,114.5 L135.5,111.8 L137.5,109.1 L139.5,106.6 L141.5,104.2 L143.5,101.8 L145.5,99.5 L147.5,97.3 L149.5,95.2 L151.5,93.2 L153.5,91.3 L155.5,89.4 L157.5,87.6 L159.5,86.0 L161.5,84.4 L163.5,82.9 L165.5,81.5 L167.5,80.2 L169.5,78.9 L171.5,77.8 L173.5,76.7 L175.5,75.7 L177.5,74.8 L179.5,74.0 L181.5,73.3 L183.5,72.6 L185.5,72.0 L187.5,71.5 L189.5,71.1 L191.5,70.8 L193.5,70.5 L195.5,70.3 L197.5,70.2 L199.5,70.2 L201.5,70.2 L203.5,70.3 L205.5,70.5 L207.5,70.7 L209.5,71.1 L211.5,71.4 L213.5,71.9 L215.5,72.4 L217.5,73.0 L219.5,73.6 L221.5,74.3 L223.5,75.1 L225.5,75.9 L227.5,76.8 L229.5,77.7 L231.5,78.7 L233.5,79.7 L235.5,80.8 L237.5,82.0 L239.5,83.2 L241.5,84.4 L243.5,85.7 L245.5,87.1 L247.5,88.4 L249.5,89.9 L251.5,91.3 L253.5,92.9 L255.5,94.4 L257.5,96.0 L259.5,97.6 L261.5,99.3 L263.5,101.0 L265.5,102.7 L267.5,104.5 L269.5,106.2 L271.5,108.1 L273.5,109.9 L275.5,111.8 L277.5,113.6 L279.5,115.5 L281.5,117.5 L283.5,119.4 L285.5,121.4 L287.5,123.3 L289.5,125.3 L291.5,127.3 L293.5,129.3 L295.5,131.3 L297.5,133.3 L299.5,135.4 L301.5,137.4 L303.5,139.4 L305.5,141.4 L307.5,143.5 L309.5,145.5 L311.5,147.5 L313.5,149.5 L315.5,151.5 L317.5,153.5 L319.5,155.5 L321.5,157.4 L323.5,159.4 L325.5,161.3 L327.5,163.2 L329.5,165.1 L331.5,167.0 L333.5,168.9 L335.5,170.7 L337.5,172.5 L339.5,174.3 L341.5,176.1 L343.5,177.9 L345.5,179.6 L347.5,181.3 L349.5,183.0 L351.5,184.7 L353.5,186.3 L355.5,187.9 L357.5,189.5 L359.5,191.1 L361.5,192.6 L363.5,194.1 L365.5,195.6 L367.5,197.1 L369.5,198.5 L371.5,199.9 L373.5,201.3 L375.5,202.7 L377.5,204.1 L379.5,205.4 L381.5,206.7 L383.5,208.0 L385.5,209.3 L387.5,210.6 L389.5,211.8 L391.5,213.1 L393.5,214.3 L395.5,215.5 L397.5,216.7 L399.5,217.9 L401.5,219.1 L403.5,220.3 L405.5,221.5 L407.5,222.6 L409.5,223.8 L411.5,225.0 L413.5,226.2 L415.5,227.3 L417.5,228.5 L419.5,229.7 L421.5,230.9 L423.5,232.1 L425.5,233.3 L427.5,234.5 L429.5,235.7 L431.5,236.9 L433.5,238.2 L435.5,239.4 L437.5,240.7 L439.5,242.0 L441.5,243.3 L443.5,244.7 L445.5,246.0 L447.5,247.4 L449.5,248.8 L451.5,250.2 L453.5,251.6 L455.5,253.1 L457.5,254.6 L459.5,256.1 L461.5,257.6 L463.5,259.2 L465.5,260.8 L467.5,262.4 L469.5,264.1 L471.5,265.8 L473.5,267.5 L475.5,269.2 L477.5,271.0 L479.5,272.8 L481.5,274.6 L483.5,276.5 L485.5,278.4 L487.5,280.3 L489.5,282.3 L491.5,284.2 L493.5,286.3 L495.5,288.3 L497.5,290.4 L499.5,292.5 L501.5,294.6 L503.5,296.8 L505.5,299.0 L507.5,301.2 L509.5,303.5 L511.5,305.8 L513.5,308.1 L515.5,310.4 L517.5,312.8 L519.5,315.1 L521.5,317.5 L523.5,320.0 L525.5,322.4 L527.5,324.9 L529.5,327.3 L531.5,329.8 L533.5,332.3 L535.5,334.9 L537.5,337.4 L539.5,339.9 L541.5,342.5 L543.5,345.0 L545.5,347.6 L547.5,350.1 L549.5,352.7 L551.5,355.2 L553.5,357.8 L555.5,360.3 L557.5,362.8 L559.5,365.3 L561.5,367.8 L563.5,370.3 L565.5,372.7 L567.5,375.1 L569.5,377.5 L571.5,379.9 L573.5,382.2 L575.5,384.5 L577.5,386.7 L579.5,388.9 L581.5,391.1 L583.5,393.2 L585.5,395.2 L587.5,397.2 L589.5,399.2 L591.5,401.1 L593.5,402.9 L595.5,404.6 L597.5,406.3 L599.5,407.9 L601.5,409.4 L603.5,410.9 L605.5,412.3 L607.5,413.7 L609.5,414.9 L611.5,416.1 L613.5,417.2 L615.5,418.3 L617.5,419.2 L619.5,420.0 L621.5,420.7 L623.5,421.3 L625.5,421.8 L627.5,422.1 L629.5,422.4 L631.5,422.4 L633.5,422.4 L635.5,422.2 L637.5,421.9 L639.5,421.5 L641.5,420.9 L643.5,420.2 L645.5,419.4 L647.5,418.5 L649.5,417.5 L651.5,416.3 L653.5,415.1 L655.5,413.8 L657.5,412.3 L659.5,410.8 L661.5,409.2 L663.5,407.4 L665.5,405.6 L667.5,403.6 L669.5,401.5 L671.5,399.4 L673.5,397.1 L675.5,394.7 L677.5,392.2 L679.5,389.6 L681.5,386.9 L683.5,384.1 L685.5,381.2 L687.5,378.2 L689.5,375.1 L691.5,372.0 L693.5,368.7 L695.5,365.4 L697.5,361.9 L699.5,358.4 L701.5,354.8 L703.5,351.2 L705.5,347.5 L707.5,343.7 L709.5,339.8 L711.5,335.9 L713.5,331.9 L715.5,327.9 L717.5,323.8 L719.5,319.6 L721.5,315.4 L723.5,311.2 L725.5,306.9 L727.5,302.6 L729.5,298.2 L731.5,293.9 L733.5,289.5 L735.5,285.0 L737.5,280.6 L739.5,276.1 L741.5,271.6 L743.5,267.1 L745.5,262.6 L747.5,258.1 L749.5,253.6 L751.5,249.1 L753.5,244.6 L755.5,240.1 L757.5,235.6 L759.5,231.1 L761.5,226.7 L763.5,222.2 L765.5,217.8 L767.5,213.4 L769.5,209.1 L771.5,204.7 L773.5,200.4 L775.5,196.2 L777.5,192.0 L779.5,187.8 L781.5,183.7 L783.5,179.6 L785.5,175.6 L787.5,171.6 L789.5,167.7 L791.5,163.8 L793.5,160.0 L795.5,156.3 L797.5,152.6 L799.5,149.0 L801.5,145.5 L803.5,142.0 L805.5,138.6 L807.5,135.3 L809.5,132.0 L811.5,128.8 L813.5,125.7 L815.5,122.7 L817.5,119.8 L819.5,116.9 L821.5,114.1 L823.5,111.4 L825.5,108.8 L827.5,106.3 L829.5,103.9 L831.5,101.5 L833.5,99.2 L835.5,97.0 L837.5,94.9 L839.5,92.9 L841.5,91.0 L843.5,89.2 L845.5,87.4 L847.5,85.8 L849.5,84.2 L851.5,82.7 L853.5,81.3 L855.5,80.0 L857.5,78.8 L859.5,77.6 L861.5,76.6 L863.5,75.6 L865.5,74.8 L867.5,74.1 L869.5,73.4 L871.5,72.9 L873.5,72.4 L875.5,72.0 L877.5,71.7 L879.5,71.4 L881.5,71.3 L883.5,71.1 L885.5,71.1 L887.5,71.1 L889.5,71.1 L891.5,71.2 L893.5,71.3 L895.5,71.5 L897.5,71.7 L899.5,72.0 L901.5,72.4 L903.5,72.8 L905.5,73.3 L907.5,73.9 L909.5,74.5 L911.5,75.2 L913.5,76.0 L915.5,76.9 L917.5,77.8 L919.5,78.8 L921.5,79.9 L923.5,81.0 L925.5,82.1 L927.5,83.3 L929.5,84.6 L931.5,85.9 L933.5,87.2 L935.5,88.6 L937.5,90.1 L939.5,91.5 L941.5,93.1 L943.5,94.6 L945.5,96.2 L947.5,97.8 L949.5,99.5 L951.5,101.2 L953.5,102.9 L955.5,104.7 L957.5,106.5 L959.5,108.3 L961.5,110.1 L963.5,112.0 L965.5,113.9 L967.5,115.8 L969.5,117.7 L971.5,119.7 L973.5,121.6 L975.5,123.6 L977.5,125.6 L979.5,127.6 L981.5,129.6 L983.5,131.6 L985.5,133.6 L987.5,135.6 L989.5,137.6 L991.5,139.7 L993.5,141.7 L995.5,143.7 L997.5,145.7 L999.5,147.7 L1001.5,149.7 L1003.5,151.7 L1005.5,153.7 L1007.5,155.7 L1009.5,157.7 L1011.5,159.6 L1013.5,161.5 L1015.5,163.5 L1017.5,165.4 L1019.5,167.2 L1021.5,169.1 L1023.5,171.0 L1025.5,172.8 L1027.5,174.6 L1029.5,176.3 L1031.5,178.1 L1033.5,179.8 L1035.5,181.5 L1037.5,183.2 L1039.5,184.9 L1041.5,186.5 L1043.5,188.1 L1045.5,189.7 L1047.5,191.3 L1049.5,192.8 L1051.5,194.3 L1053.5,195.8 L1055.5,197.3 L1057.5,198.7 L1059.5,200.1 L1061.5,201.5 L1063.5,202.9 L1065.5,204.2 L1067.5,205.6 L1069.5,206.9 L1071.5,208.2 L1073.5,209.5 L1075.5,210.7 L1077.5,212.0 L1079.5,213.2 L1081.5,214.5 L1083.5,215.7 L1085.5,217.0 L1087.5,218.3 L1089.5,219.6 L1091.5,220.9 L1093.5,222.2 L1095.5,223.5 L1097.5,224.8 L1099.5,226.1 L1101.5,227.4 L1103.5,228.7 L1105.5,230.0 L1107.5,231.3 L1109.5,232.5 L1111.5,233.7 L1113.5,234.9 L1115.5,236.1 L1117.5,237.3 L1119.5,238.5 L1121.5,239.7 L1123.5,240.9 L1125.5,242.1 L1127.5,243.4 L1129.5,244.6 L1131.5,245.9 L1133.5,247.2 L1135.5,248.5 L1137.5,249.8 L1139.5,251.2 L1141.5,252.5 L1143.5,253.9 L1145.5,255.4 L1147.5,256.8 L1149.5,258.3 L1151.5,259.9 L1153.5,261.4 L1155.5,263.0 L1157.5,264.7 L1159.5,266.3 L1161.5,268.0 L1163.5,269.7 L1165.5,271.4 L1167.5,273.2 L1169.5,275.0 L1171.5,276.9 L1173.5,278.7 L1175.5,280.6 L1177.5,282.6 L1179.5,284.5 L1181.5,286.6 L1183.5,288.6 L1185.5,290.7 L1187.5,292.8 L1189.5,294.9 L1191.5,297.1 L1193.5,299.3 L1195.5,301.5 L1197.5,303.8 L1199.5,306.1 L1201.5,308.4 L1203.5,310.7 L1205.5,313.1 L1207.5,315.4 L1209.5,317.8 L1211.5,320.3 L1213.5,322.7 L1215.5,325.2 L1217.5,327.7 L1219.5,330.1 L1221.5,332.7 L1223.5,335.2 L1225.5,337.7 L1227.5,340.2 L1229.5,342.8 L1231.5,345.3 L1233.5,347.9 L1235.5,350.4 L1237.5,353.0 L1239.5,355.5 L1241.5,358.1 L1243.5,360.6 L1245.5,363.1 L1247.5,365.6 L1249.5,368.1 L1251.5,370.6 L1253.5,373.0 L1255.5,375.4 L1257.5,377.8 L1259.5,380.2 L1261.5,382.5 L1263.5,384.8 L1265.5,387.0 L1267.5,389.2 L1269.5,391.4 L1271.5,393.5 L1273.5,395.5 L1275.5,397.5 L1277.5,399.4 L1279.5,401.3 L1281.5,403.1 L1283.5,404.8 L1285.5,406.5 L1287.5,408.1 L1289.5,409.6 L1291.5,411.1 L1293.5,412.4 L1295.5,413.7 L1297.5,414.9 L1299.5,416.0 L1301.5,417.1 L1303.5,418.1 L1305.5,419.1 L1307.5,419.9 L1309.5,420.6 L1311.5,421.3 L1313.5,421.8 L1315.5,422.1 L1317.5,422.4 L1319.5,422.5 L1321.5,422.4 L1323.5,422.2 L1325.5,421.9 L1327.5,421.4 L1329.5,420.8 L1331.5,420.1 L1333.5,419.3 L1335.5,418.3 L1337.5,417.3 L1339.5,416.1 L1341.5,414.9 L1343.5,413.5 L1345.5,412.1 L1347.5,410.6 L1349.5,409.0 L1351.5,407.2 L1353.5,405.3 L1355.5,403.4 L1357.5,401.3 L1359.5,399.1 L1361.5,396.8 L1363.5,394.4 L1365.5,391.9 L1367.5,389.3 L1369.5,386.5 L1371.5,383.7 L1373.5,380.8 L1375.5,377.8 L1377.5,374.7 L1379.5,371.6 L1381.5,368.3 L1383.5,364.9 L1385.5,361.5 L1387.5,358.0 L1389.5,354.4 L1391.5,350.7 L1393.5,347.0 L1395.5,343.2 L1397.5,339.3 L1399.5,335.4 L1401.5,331.4 L1403.5,327.3 L1405.5,323.2 L1407.5,319.1 L1409.5,314.9 L1411.5,310.7 L1413.5,306.4 L1415.5,302.1 L1417.5,297.7 L1419.5,293.3 L1421.5,288.9 L1423.5,284.5 L1425.5,280.0 L1427.5,275.5 L1429.5,271.1 L1431.5,266.6 L1433.5,262.1 L1435.5,257.5 L1437.5,253.0 L1439.5,248.5 L1441.5,244.0 L1443.5,239.5 L1445.5,235.0 L1447.5,230.6 L1449.5,226.1 L1451.5,221.7 L1453.5,217.3 L1455.5,212.9 L1457.5,208.5" stroke="#00f"/>
</g>
<g stroke="#808080" fill="none" stroke-dasharray="3.7 1.7">
<line x1="123.5" y1="96.2" x2="1188" y2="96.2" stroke-width="3.0"/>
<line x1="123.5" y1="165.5" x2="1188" y2="165.5" stroke-width="3.0"/>
<line x1="123.5" y1="233.3" x2="1459.5" y2="233.3" stroke-width="3.0"/>
<line x1="123.5" y1="301.7" x2="1459.5" y2="301.7" stroke-width="3.0"/>
<line x1="123.5" y1="370.0" x2="1459.5" y2="370.0" stroke-width="3.0"/>
<line x1="123.5" y1="438.5" x2="1459.5" y2="438.5" stroke-width="3.0"/>
<line x1="123.5" y1="508.2" x2="1459.5" y2="508.2" stroke-width="3.0"/>
<line x1="123.5" y1="576.0" x2="1459.5" y2="576.0" stroke-width="1.7"/>
<line x1="123.5" y1="645.3" x2="1459.5" y2="645.3" stroke-width="2.8"/>
<line x1="466.5" y1="28.4" x2="466.5" y2="711.5" stroke-width="3.0"/>
<line x1="831.6" y1="28.4" x2="831.6" y2="711.5" stroke-width="3.0"/>
<line x1="1152.6" y1="28.4" x2="1152.6" y2="711.5" stroke-width="3.0"/>
</g>
<rect x="1428" y="29.3" width="30.2" height="172" fill="#fff"/>
<rect x="1202.3" y="30.5" width="225.2" height="188.9" fill="#fff" stroke="#1e1e1e" stroke-width="2.6"/>
<line x1="1445" y1="203.5" x2="1458.5" y2="203.5" stroke="#333" stroke-width="1"/>
<rect x="1455.8" y="29.6" width="2.6" height="1.9" fill="#222"/>
<g stroke-width="4.3" stroke-linecap="round">
<line x1="1210.4" y1="49.8" x2="1284.2" y2="49.8" stroke="#00f"/>
<line x1="1211.2" y1="103" x2="1285" y2="103" stroke="#f00"/>
<line x1="1213" y1="149" x2="1286" y2="149" stroke="#0f0"/>
</g>
<line x1="1211" y1="198.2" x2="1288" y2="198.2" stroke="#000" stroke-width="4"/>
<text fill="#000"><tspan x="1301.9" y="58.6" font-size="28.3" textLength="21.73" lengthAdjust="spacingAndGlyphs" font-style="italic">U</tspan><tspan x="1325.84" y="45.66" font-size="14.5" textLength="8.32" lengthAdjust="spacingAndGlyphs" >*</tspan><tspan x="1325.37" y="65.58" font-size="11" textLength="6.95" lengthAdjust="spacingAndGlyphs" style="font-family:'Liberation Sans',sans-serif">c</tspan><tspan x="1342.92" y="60.25" font-size="25" textLength="18.92" lengthAdjust="spacingAndGlyphs" >=</tspan><tspan x="1365.07" y="58.6" font-size="28" textLength="57.84" lengthAdjust="spacingAndGlyphs" >1100</tspan></text>
<text fill="#000"><tspan x="1301.9" y="110.6" font-size="28.3" textLength="21.73" lengthAdjust="spacingAndGlyphs" font-style="italic">U</tspan><tspan x="1325.84" y="98.91" font-size="14.5" textLength="8.32" lengthAdjust="spacingAndGlyphs" >*</tspan><tspan x="1325.37" y="118.17" font-size="11" textLength="6.95" lengthAdjust="spacingAndGlyphs" style="font-family:'Liberation Sans',sans-serif">c</tspan><tspan x="1342.92" y="112.25" font-size="25" textLength="18.92" lengthAdjust="spacingAndGlyphs" >=</tspan><tspan x="1365.12" y="110.6" font-size="28" textLength="57.81" lengthAdjust="spacingAndGlyphs" >1000</tspan></text>
<text fill="#000"><tspan x="1301.84" y="159.7" font-size="28.3" textLength="22.25" lengthAdjust="spacingAndGlyphs" font-style="italic">U</tspan><tspan x="1327.08" y="146.81" font-size="14.5" textLength="7.94" lengthAdjust="spacingAndGlyphs" >*</tspan><tspan x="1325.37" y="166.47" font-size="11" textLength="6.95" lengthAdjust="spacingAndGlyphs" style="font-family:'Liberation Sans',sans-serif">c</tspan><tspan x="1344.13" y="161.05" font-size="25" textLength="18.8" lengthAdjust="spacingAndGlyphs" >=</tspan><tspan x="1367.28" y="159.7" font-size="28" textLength="43.96" lengthAdjust="spacingAndGlyphs" >900</tspan></text>
<text fill="#000"><tspan x="1303.96" y="208.6" font-size="28.3" textLength="22.04" lengthAdjust="spacingAndGlyphs" font-style="italic">U</tspan><tspan x="1329.31" y="196.31" font-size="14.5" textLength="8.57" lengthAdjust="spacingAndGlyphs" >*</tspan><tspan x="1327.24" y="216.68" font-size="11" textLength="7.29" lengthAdjust="spacingAndGlyphs" style="font-family:'Liberation Sans',sans-serif">c</tspan><tspan x="1345.28" y="209.8" font-size="25" textLength="18.31" lengthAdjust="spacingAndGlyphs" >=</tspan><tspan x="1368.96" y="208.6" font-size="28" textLength="43.89" lengthAdjust="spacingAndGlyphs" >800</tspan></text>
<text x="63.35" y="41.8" font-size="29" textLength="56.85" lengthAdjust="spacingAndGlyphs" >1700</text>
<text x="63.26" y="104.0" font-size="29" textLength="56.64" lengthAdjust="spacingAndGlyphs" >1530</text>
<text x="61.01" y="173.6" font-size="29" textLength="57.81" lengthAdjust="spacingAndGlyphs" >1360</text>
<text x="61.38" y="241.8" font-size="29" textLength="57.3" lengthAdjust="spacingAndGlyphs" >1190</text>
<text x="61.44" y="309.5" font-size="29" textLength="57.17" lengthAdjust="spacingAndGlyphs" >1020</text>
<text x="72.5" y="378.7" font-size="29" textLength="42.71" lengthAdjust="spacingAndGlyphs" >850</text>
<text x="72.67" y="446.7" font-size="29" textLength="42.94" lengthAdjust="spacingAndGlyphs" >680</text>
<text x="72.25" y="517.6" font-size="29" textLength="44.09" lengthAdjust="spacingAndGlyphs" >510</text>
<text x="72.53" y="584.8" font-size="29" textLength="43.5" lengthAdjust="spacingAndGlyphs" >340</text>
<text x="73.33" y="653.9" font-size="29" textLength="42.98" lengthAdjust="spacingAndGlyphs" >170</text>
<text x="88.87" y="718.4" font-size="29" textLength="14.56" lengthAdjust="spacingAndGlyphs" >0</text>
<text fill="#222"><tspan x="670.38" y="751.2" font-size="43" textLength="110.36" lengthAdjust="spacingAndGlyphs">Time:</tspan><tspan x="780.37" y="753.3" font-size="46" textLength="11.96" lengthAdjust="spacingAndGlyphs">[</tspan><tspan x="794.51" y="751.2" font-size="43" textLength="40.0" lengthAdjust="spacingAndGlyphs">10</tspan><tspan x="834.7" y="751.2" font-size="43" textLength="57.55" lengthAdjust="spacingAndGlyphs">ms</tspan><tspan x="893.0" y="755.7" font-size="52" textLength="14.95" lengthAdjust="spacingAndGlyphs">/</tspan><tspan x="906.9" y="751.2" font-size="43" textLength="77.68" lengthAdjust="spacingAndGlyphs">grid</tspan><tspan x="988.76" y="753.3" font-size="46" textLength="11.66" lengthAdjust="spacingAndGlyphs">]</tspan></text>
<text transform="rotate(-90)" fill="#222" xml:space="preserve"><tspan x="-632.96" y="53.8" font-size="45" textLength="79.17" lengthAdjust="spacingAndGlyphs">APF</tspan><tspan font-size="45"> </tspan><tspan x="-541.27" y="53.8" font-size="45" textLength="166.65" lengthAdjust="spacingAndGlyphs">capacitor</tspan><tspan font-size="45"> </tspan><tspan x="-362.0" y="53.8" font-size="45" textLength="137.64" lengthAdjust="spacingAndGlyphs">voltage</tspan><tspan x="-223.34" y="53.8" font-size="45" textLength="31.18" lengthAdjust="spacingAndGlyphs">U</tspan><tspan x="-189.64" y="53.6" font-size="27" textLength="46.6" lengthAdjust="spacingAndGlyphs">APF</tspan><tspan x="-141.6" y="57.2" font-size="51" textLength="16.05" lengthAdjust="spacingAndGlyphs">/</tspan><tspan x="-127.32" y="53.8" font-size="45" textLength="27.34" lengthAdjust="spacingAndGlyphs">V</tspan></text>
</svg></body></html>
